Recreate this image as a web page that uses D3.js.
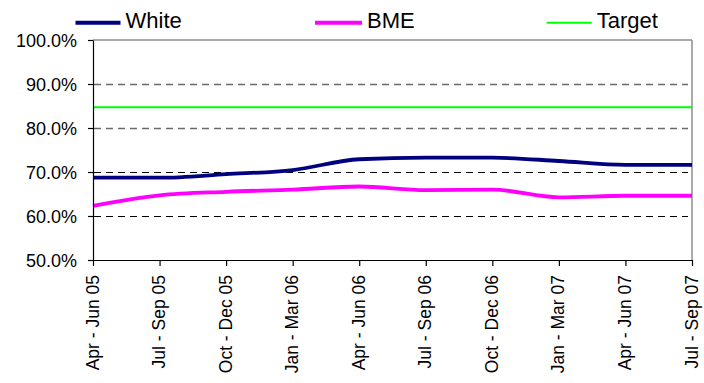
<!DOCTYPE html>
<html><head><meta charset="utf-8">
<script src="https://cdn.jsdelivr.net/npm/d3@7/dist/d3.min.js"></script>
<style>
body{margin:0;background:#fff}
svg{display:block;font-family:Arial,"Liberation Sans",sans-serif}
</style>
</head><body>
<svg id="c" width="704" height="383"></svg>
<script>
const categories = ["Apr - Jun 05","Jul - Sep 05","Oct - Dec 05","Jan - Mar 06","Apr - Jun 06","Jul - Sep 06","Oct - Dec 06","Jan - Mar 07","Apr - Jun 07","Jul - Sep 07"];
const whiteValues  = [68.7, 68.7, 69.5, 70.45, 72.9, 73.25, 73.25, 72.5, 71.6, 71.6];
const bmeValues    = [62.3, 64.7, 65.5, 66.0, 66.7, 65.9, 66.0, 64.25, 64.6, 64.6];
const targetValues = [84.7, 84.7, 84.7, 84.7, 84.7, 84.7, 84.7, 84.7, 84.7, 84.7];
const seriesNames  = ["White", "BME", "Target"];
const seriesColors = ["#000080", "#FF00FF", "#00FF00"];
const yTicks = [50, 60, 70, 80, 90, 100];
const gridValues = [60, 70, 80, 90];

const svg = d3.select("#c");
const L = 93, R = 692, T = 40, B = 260;
const x = d3.scalePoint().domain(categories).range([L, R]);
const y = d3.scaleLinear().domain([50, 100]).range([B, T]);

// borders (top, right)
svg.append("line").attr("x1", L).attr("x2", R).attr("y1", y(100)).attr("y2", y(100))
  .attr("stroke", "#8c8c8c").attr("stroke-width", 1.5);
svg.append("line").attr("x1", R).attr("x2", R).attr("y1", T).attr("y2", B)
  .attr("stroke", "#8c8c8c").attr("stroke-width", 1.5);

// gridlines
svg.append("g").selectAll("line").data(gridValues).join("line")
  .attr("x1", L + 1).attr("x2", R - 4)
  .attr("y1", d => Math.round(y(d)) + 0.5).attr("y2", d => Math.round(y(d)) + 0.5)
  .attr("stroke", d => d >= 80 ? "#6a6a6a" : "#000")
  .attr("stroke-width", d => d >= 80 ? 1.6 : 1)
  .attr("stroke-dasharray", "7,5");

// series
const lineSmooth = d3.line().x((d, i) => x(categories[i])).y(d => y(d)).curve(d3.curveMonotoneX);
const lineStraight = d3.line().x((d, i) => x(categories[i])).y(d => y(d));
svg.append("path").datum(targetValues).attr("d", lineStraight)
  .attr("fill", "none").attr("stroke", seriesColors[2]).attr("stroke-width", 2);
svg.append("path").datum(bmeValues).attr("d", lineSmooth)
  .attr("fill", "none").attr("stroke", seriesColors[1]).attr("stroke-width", 3.8)
  .attr("stroke-linejoin", "round");
svg.append("path").datum(whiteValues).attr("d", lineSmooth)
  .attr("fill", "none").attr("stroke", seriesColors[0]).attr("stroke-width", 3.8)
  .attr("stroke-linejoin", "round");

// y axis
const yAxis = svg.append("g").attr("transform", `translate(${L},0)`)
  .call(d3.axisLeft(y).tickValues(yTicks).tickSize(5).tickSizeOuter(0).tickPadding(11)
    .tickFormat(d => d.toFixed(1) + "%"));
yAxis.selectAll("path,line").attr("stroke", "#000").attr("stroke-width", 1.2);
yAxis.selectAll("text").attr("font-size", 18).attr("fill", "#000")
  .attr("font-family", "Arial, 'Liberation Sans', sans-serif").attr("dy", "0.35em");

// x axis
const xAxis = svg.append("g").attr("transform", `translate(0,${B})`)
  .call(d3.axisBottom(x).tickSize(6).tickSizeOuter(0));
xAxis.selectAll("path,line").attr("stroke", "#000").attr("stroke-width", 1.2);
xAxis.selectAll("text")
  .attr("font-size", 17.5).attr("fill", "#000")
  .attr("font-family", "Arial, 'Liberation Sans', sans-serif")
  .attr("x", 0).attr("y", 0).attr("dy", 0)
  .attr("text-anchor", "end")
  .attr("transform", "translate(5,15) rotate(-90)");

// legend
const legendLineX = [75.5, 315, 546.7];
const legendLineW = [45, 47, 45];
const legendStroke = [4, 4, 2];
const lg = svg.append("g");
seriesNames.forEach((name, i) => {
  lg.append("line").attr("x1", legendLineX[i]).attr("x2", legendLineX[i] + legendLineW[i])
    .attr("y1", 22.7).attr("y2", 22.7)
    .attr("stroke", seriesColors[i]).attr("stroke-width", legendStroke[i]);
  lg.append("text").attr("x", legendLineX[i] + legendLineW[i] + 5).attr("y", 28.3)
    .attr("font-size", 22).attr("fill", "#000").text(name);
});
</script>
</body></html>
